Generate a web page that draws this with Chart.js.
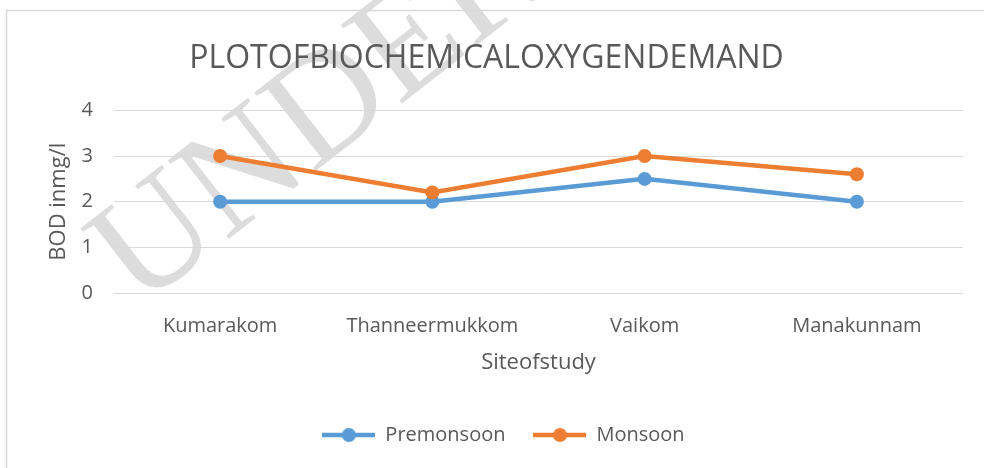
<!DOCTYPE html>
<html>
<head>
<meta charset="utf-8">
<title>BOD plot</title>
<script src="https://cdn.jsdelivr.net/npm/chart.js@4.4.0/dist/chart.umd.min.js"></script>
<style>
    html, body { margin: 0; padding: 0; background: #ffffff; }
    #wrap { width: 984px; height: 468px; }
</style>
</head>
<body>
<div id="wrap"><canvas id="bodChart" width="984" height="468"></canvas></div>
<script>
// Chart data
const sites = ["Kumarakom", "Thanneermukkom", "Vaikom", "Manakunnam"];
const premonsoon = [2, 2, 2.5, 2];
const monsoon = [3, 2.2, 3, 2.6];
const yMin = 0;
const yMax = 4;
const yStep = 1;

const chartTitle = "PLOTOFBIOCHEMICALOXYGENDEMAND";
const yTitle = "BOD inmg/l";
const xTitle = "Siteofstudy";
const watermark = "UNDER PEER REVIEW";

const BLUE = "#5B9BD5";
const ORANGE = "#ED7D31";
const TEXT = "#595959";
const GRID = "#d9d9d9";
const FONT = "'Open Sans', sans-serif";

// line + dot marker for the legend
function legendMarker(color) {
    const c = document.createElement("canvas");
    c.width = 53;
    c.height = 16;
    const g = c.getContext("2d");
    g.strokeStyle = color;
    g.lineWidth = 4.5;
    g.beginPath();
    g.moveTo(0, 8);
    g.lineTo(53, 8);
    g.stroke();
    g.fillStyle = color;
    g.beginPath();
    g.arc(26.5, 8, 7, 0, Math.PI * 2);
    g.fill();
    return c;
}

// white page, faint watermark and the frame lines
const framePlugin = {
    id: "frame",
    beforeDraw(chart) {
        const ctx = chart.ctx;
        ctx.save();
        ctx.fillStyle = "#ffffff";
        ctx.fillRect(0, 0, chart.width, chart.height);

        ctx.translate(139, 309);
        ctx.rotate(-38 * Math.PI / 180);
        ctx.fillStyle = "#dcdcdc";
        ctx.font = "152px 'Liberation Serif', serif";
        ctx.textBaseline = "alphabetic";
        ctx.fillText(watermark, 0, 0);
        ctx.restore();

        ctx.save();
        ctx.strokeStyle = GRID;
        ctx.lineWidth = 1.5;
        ctx.beginPath();
        ctx.moveTo(6.5, chart.height);
        ctx.lineTo(6.5, 10.5);
        ctx.lineTo(chart.width, 10.5);
        ctx.stroke();
        ctx.restore();
    }
};

// nudge the legend to the right, as in the original
const legendShift = {
    id: "legendShift",
    afterLayout(chart) {
        chart.legend.left += 17;
        chart.legend.right += 17;
    }
};

const ctx = document.getElementById("bodChart").getContext("2d");

new Chart(ctx, {
    type: "line",
    data: {
        labels: sites,
        datasets: [
            {
                label: "Premonsoon",
                data: premonsoon,
                borderColor: BLUE,
                backgroundColor: BLUE,
                borderWidth: 4.5,
                pointRadius: 7,
                pointHoverRadius: 7,
                pointBorderWidth: 0,
                tension: 0,
                order: 1,
            },
            {
                label: "Monsoon",
                data: monsoon,
                borderColor: ORANGE,
                backgroundColor: ORANGE,
                borderWidth: 4.5,
                pointRadius: 7,
                pointHoverRadius: 7,
                pointBorderWidth: 0,
                tension: 0,
                order: 0,
            },
        ],
    },
    options: {
        responsive: false,
        animation: false,
        devicePixelRatio: 1,
        layout: { padding: { left: 10, right: 21, top: 10, bottom: 13 } },
        plugins: {
            title: {
                display: true,
                text: chartTitle,
                color: TEXT,
                font: { family: FONT, size: 32, weight: "normal" },
                padding: { top: 30, bottom: 32 },
            },
            legend: {
                position: "bottom",
                labels: {
                    usePointStyle: true,
                    pointStyleWidth: 53,
                    padding: 28,
                    color: TEXT,
                    font: { family: FONT, size: 20 },
                    generateLabels(chart) {
                        return chart.data.datasets.map((ds, i) => ({
                            text: ds.label,
                            datasetIndex: i,
                            pointStyle: legendMarker(ds.borderColor),
                            fontColor: TEXT,
                            fillStyle: ds.borderColor,
                            strokeStyle: ds.borderColor,
                            lineWidth: 0,
                            hidden: false,
                        }));
                    },
                },
            },
            tooltip: { enabled: false },
        },
        scales: {
            x: {
                offset: true,
                afterFit(scale) {
                    scale.height = 104;
                },
                grid: { display: false, drawTicks: false },
                border: { display: false },
                ticks: {
                    color: TEXT,
                    padding: 21,
                    maxRotation: 0,
                    font: { family: FONT, size: 20 },
                },
                title: {
                    display: true,
                    text: xTitle,
                    color: TEXT,
                    font: { family: FONT, size: 22 },
                    padding: { top: 12, bottom: 20.6 },
                },
            },
            y: {
                min: yMin,
                max: yMax,
                afterFit(scale) {
                    scale.width = 104;
                },
                grid: { color: GRID, lineWidth: 1, drawTicks: false },
                border: { display: false },
                ticks: {
                    stepSize: yStep,
                    color: TEXT,
                    padding: 21,
                    font: { family: FONT, size: 20 },
                },
                title: {
                    display: true,
                    text: yTitle,
                    color: TEXT,
                    font: { family: FONT, size: 22 },
                    padding: { top: 36, bottom: 10 },
                },
            },
        },
    },
    plugins: [framePlugin, legendShift],
});
</script>
</body>
</html>
